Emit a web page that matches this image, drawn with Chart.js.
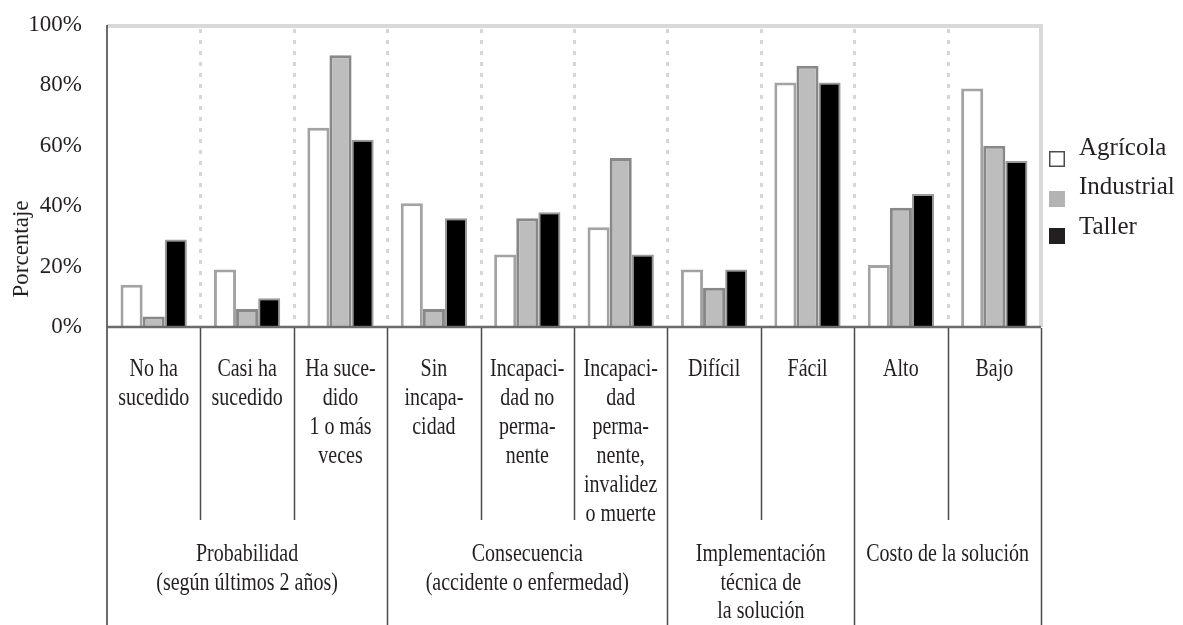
<!DOCTYPE html>
<html>
<head>
<meta charset="utf-8">
<script src="https://cdn.jsdelivr.net/npm/chart.js@4.4.1/dist/chart.umd.min.js"></script>
<style>
  html, body { margin: 0; padding: 0; background: #ffffff; }
  #wrap { width: 1183px; height: 625px; }
</style>
</head>
<body>
<div id="wrap"><canvas id="c" width="1183" height="625"></canvas></div>
<script>
// ---- data ----
const categories = ["No ha sucedido", "Casi ha sucedido", "Ha sucedido 1 o más veces", "Sin incapacidad", "Incapacidad no permanente", "Incapacidad permanente, invalidez o muerte", "Difícil", "Fácil", "Alto", "Bajo"];
const categoryLines = [
  ["No ha", "sucedido"],
  ["Casi ha", "sucedido"],
  ["Ha suce-", "dido", "1 o más", "veces"],
  ["Sin", "incapa-", "cidad"],
  ["Incapaci-", "dad no", "perma-", "nente"],
  ["Incapaci-", "dad", "perma-", "nente,", "invalidez", "o muerte"],
  ["Difícil"],
  ["Fácil"],
  ["Alto"],
  ["Bajo"]
];
const groupLines = [
  ["Probabilidad", "(según últimos 2 años)"],
  ["Consecuencia", "(accidente o enfermedad)"],
  ["Implementación", "técnica de", "la solución"],
  ["Costo de la solución"]
];
const groupSpans = [3, 3, 2, 2];
const seriesNames = ["Agrícola", "Industrial", "Taller"];
const agricola   = [14, 19, 66, 41, 24, 33, 19, 81, 20.5, 79];
const industrial = [3.5, 6, 90, 6, 36, 56, 13, 86.5, 39.5, 60];
const taller     = [29, 9.5, 62, 36, 38, 24, 19, 81, 44, 55];
const yTicks = [0, 20, 40, 60, 80, 100];
const yTitle = "Porcentaje";

const FONT = "'Liberation Serif', 'Times New Roman', serif";
const TEXT = "#231f20";

function stretchedText(ctx, t, x, y, sy) {
  ctx.save();
  ctx.translate(x, y);
  ctx.scale(1, sy);
  ctx.fillText(t, 0, 0);
  ctx.restore();
}

const decor = {
  id: 'decor',
  beforeDatasetsDraw(chart) {
    const ctx = chart.ctx, a = chart.chartArea, x = chart.scales.x;
    const n = categories.length;
    const half = (x.getPixelForValue(1) - x.getPixelForValue(0)) / 2;
    ctx.save();
    // dotted separators
    ctx.strokeStyle = '#d6d6d6';
    ctx.lineWidth = 3;
    ctx.setLineDash([4, 7]);
    for (let i = 1; i < n; i++) {
      const px = Math.round(x.getPixelForValue(i) - half) + 0.5;
      ctx.beginPath(); ctx.moveTo(px, a.top + 4); ctx.lineTo(px, a.bottom); ctx.stroke();
    }
    ctx.setLineDash([]);
    // top and right frame
    ctx.strokeStyle = '#d9d9d9';
    ctx.lineWidth = 4;
    ctx.beginPath(); ctx.moveTo(a.left, a.top + 1); ctx.lineTo(a.right + 2, a.top + 1); ctx.stroke();
    ctx.beginPath(); ctx.moveTo(a.right, a.top); ctx.lineTo(a.right, a.bottom); ctx.stroke();
    ctx.restore();
  },
  afterDraw(chart) {
    const ctx = chart.ctx, a = chart.chartArea, x = chart.scales.x;
    const n = categories.length;
    const half = (x.getPixelForValue(1) - x.getPixelForValue(0)) / 2;
    const bottom = chart.height;
    ctx.save();
    // axes
    ctx.strokeStyle = '#6b6b6b';
    ctx.lineWidth = 2.5;
    ctx.beginPath(); ctx.moveTo(a.left, a.bottom); ctx.lineTo(a.right, a.bottom); ctx.stroke();
    ctx.lineWidth = 2;
    ctx.beginPath(); ctx.moveTo(a.left, a.top); ctx.lineTo(a.left, bottom); ctx.stroke();
    // table separators
    ctx.strokeStyle = '#4a4a4a';
    ctx.lineWidth = 1.5;
    const groupEnds = [];
    let acc = 0;
    groupSpans.forEach(s => { acc += s; groupEnds.push(acc); });
    for (let i = 1; i <= n; i++) {
      const px = Math.round(x.getPixelForValue(i - 1) + half) + 0.5;
      const isGroup = groupEnds.includes(i);
      ctx.beginPath();
      ctx.moveTo(px, a.bottom + 1);
      ctx.lineTo(px, isGroup ? bottom : a.bottom + 193);
      ctx.stroke();
    }
    // category labels
    ctx.fillStyle = TEXT;
    ctx.font = '20px ' + FONT;
    ctx.textAlign = 'center';
    ctx.textBaseline = 'middle';
    categoryLines.forEach((lines, i) => {
      const cx = x.getPixelForValue(i);
      lines.forEach((t, j) => stretchedText(ctx, t, cx, a.bottom + 43 + j * 29, 1.22));
    });
    // group labels
    let start = 0;
    groupLines.forEach((lines, g) => {
      const l = x.getPixelForValue(start) - half;
      const r = x.getPixelForValue(start + groupSpans[g] - 1) + half;
      const cx = (l + r) / 2;
      lines.forEach((t, j) => stretchedText(ctx, t, cx, a.bottom + 228 + j * 28.5, 1.22));
      start += groupSpans[g];
    });
    // y title
    ctx.save();
    ctx.translate(22, 249);
    ctx.rotate(-Math.PI / 2);
    ctx.font = '23px ' + FONT;
    ctx.fillText(yTitle, 0, 0);
    ctx.restore();
    // legend
    const lx = a.right + 8;
    const fills = ['#ffffff', '#b3b3b3', '#231f20'];
    const ys = [159, 199, 236];
    const ty = [148, 187, 227];
    ctx.textAlign = 'left';
    ctx.font = '25px ' + FONT;
    chart.data.datasets.forEach((ds, i) => {
      ctx.fillStyle = fills[i];
      ctx.fillRect(lx, ys[i] - 8, 16, 16);
      if (i === 0) {
        ctx.strokeStyle = '#4d4d4d';
        ctx.lineWidth = 1.5;
        ctx.strokeRect(lx + 0.75, ys[i] - 7.25, 14.5, 14.5);
      }
      ctx.fillStyle = TEXT;
      ctx.fillText(ds.label, lx + 30, ty[i]);
    });
    ctx.restore();
  }
};

new Chart(document.getElementById('c'), {
  type: 'bar',
  data: {
    labels: categories,
    datasets: [
      { label: seriesNames[0], data: agricola, backgroundColor: '#ffffff', borderColor: '#a3a3a3', borderWidth: 3 },
      { label: seriesNames[1], data: industrial, backgroundColor: '#bdbdbd', borderColor: '#888888', borderWidth: 3 },
      { label: seriesNames[2], data: taller, backgroundColor: '#000000', borderColor: '#9a9a9a', borderWidth: 2 }
    ]
  },
  options: {
    responsive: false,
    devicePixelRatio: 1,
    animation: false,
    layout: { padding: { left: 0, right: 142, top: 25, bottom: 298 } },
    datasets: { bar: { categoryPercentage: 0.71, barPercentage: 1.0 } },
    plugins: { legend: { display: false }, tooltip: { enabled: false } },
    scales: {
      x: { display: false, offset: true },
      y: {
        min: 0, max: 100,
        afterFit(s) { s.width = 107; s.paddingTop = 0; s.paddingBottom = 0; },
        afterBuildTicks(s) { s.ticks = yTicks.map(v => ({ value: v })); },
        grid: { display: false },
        border: { display: false },
        ticks: {
          callback: v => v + '%',
          font: { family: FONT, size: 23 },
          color: TEXT,
          padding: 17
        }
      }
    }
  },
  plugins: [decor]
});
</script>
</body>
</html>
